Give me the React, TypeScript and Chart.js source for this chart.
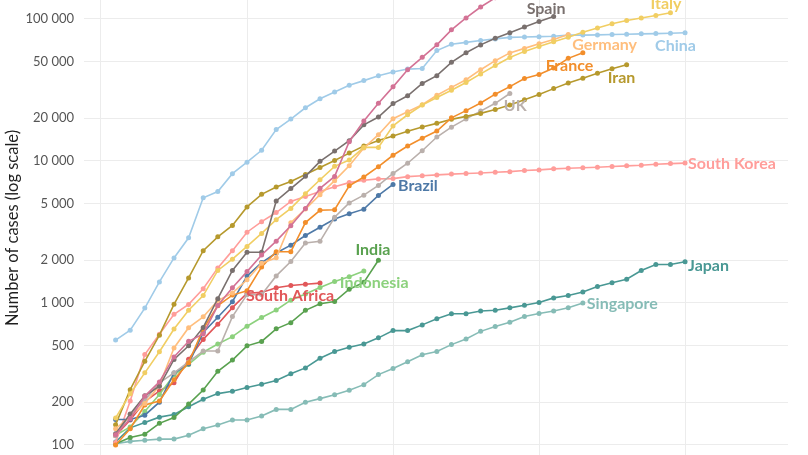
import React, { useEffect, useRef } from "react";
import { Chart, registerables } from "chart.js";

Chart.register(...registerables);

// Confirmed cases, by day since the 100th case (day 1 = first day with >= 100 cases)
const chinaCases = [548, 643, 920, 1406, 2075, 2877, 5509, 6087, 8141, 9802, 11891, 16630, 19716, 23707, 27440, 30587, 34110, 36814, 39829, 42354, 44386, 44759, 59895, 66358, 68413, 70513, 72434, 74211, 74619, 75077, 75550, 77001, 77022, 77241, 77754, 78166, 78600, 78928, 79356, 79932];
const southKoreaCases = [104, 204, 433, 602, 833, 977, 1261, 1766, 2337, 3150, 3736, 4335, 5186, 5621, 6088, 6593, 7041, 7314, 7478, 7513, 7755, 7869, 7979, 8086, 8162, 8236, 8320, 8413, 8565, 8652, 8799, 8897, 8961, 9037, 9137, 9241, 9332, 9478, 9583, 9661];
const japanCases = [105, 132, 144, 157, 164, 186, 210, 230, 239, 254, 268, 284, 317, 349, 408, 455, 488, 514, 568, 639, 639, 701, 773, 839, 839, 878, 889, 924, 963, 1007, 1086, 1128, 1193, 1307, 1387, 1468, 1693, 1866, 1866, 1953];
const italyCases = [155, 229, 322, 453, 655, 888, 1128, 1694, 2036, 2502, 3089, 3858, 4636, 5883, 7375, 9172, 10149, 12462, 12462, 17660, 21157, 24747, 27980, 31506, 35713, 41035, 47021, 53578, 59138, 63927, 69176, 74386, 80589, 86498, 92472, 97689, 101739, 105792, 110574];
const iranCases = [139, 245, 388, 593, 978, 1501, 2336, 2922, 3513, 4747, 5823, 6566, 7161, 8042, 9000, 10075, 11364, 12729, 13938, 14991, 16169, 17361, 18407, 19644, 20610, 21638, 23049, 24811, 27017, 29406, 32332, 35408, 38309, 41495, 44605, 47593];
const franceCases = [100, 130, 191, 204, 288, 380, 656, 957, 1136, 1219, 1794, 2293, 2293, 3681, 4496, 4532, 6683, 7715, 9124, 10970, 12758, 14463, 16243, 20123, 22622, 25600, 29551, 33402, 38105, 40708, 45170, 52827, 57749];
const singaporeCases = [102, 106, 108, 110, 110, 117, 130, 138, 150, 150, 160, 178, 178, 200, 212, 226, 243, 266, 313, 345, 385, 432, 455, 509, 558, 631, 683, 732, 802, 844, 879, 926, 1000];
const germanyCases = [130, 159, 196, 262, 482, 670, 799, 1040, 1176, 1457, 1908, 2078, 3675, 4585, 5795, 7272, 9257, 12327, 15320, 19848, 22213, 24873, 29056, 32986, 37323, 43938, 50871, 57695, 62095, 66885, 71808, 77872];
const spainCases = [120, 165, 222, 259, 400, 500, 673, 1073, 1695, 2277, 2277, 5232, 6391, 7798, 9942, 11748, 13910, 17963, 20410, 25374, 28768, 35136, 39885, 49515, 57786, 65719, 73235, 80110, 87956, 95923, 104118];
const usCases = [118, 153, 221, 278, 417, 537, 605, 959, 1281, 1663, 2179, 2726, 3499, 4632, 6421, 7786, 13680, 19101, 25493, 33276, 43847, 53740, 65778, 83836, 101657, 121478, 140886, 161807, 188172, 213372];
const ukCases = [116, 164, 207, 274, 322, 384, 459, 459, 802, 1144, 1145, 1551, 1960, 2642, 2716, 4014, 5067, 5745, 6726, 8164, 9640, 11812, 14745, 17312, 19780, 22453, 25481, 29865];
const brazilCases = [151, 151, 162, 200, 321, 372, 621, 793, 1021, 1546, 1924, 2247, 2554, 2985, 3417, 3904, 4256, 4579, 5717, 6836];
const indiaCases = [102, 113, 119, 142, 156, 194, 244, 330, 396, 499, 536, 657, 727, 887, 987, 1024, 1251, 1397, 1998];
const indonesiaCases = [117, 134, 172, 227, 311, 369, 450, 514, 579, 686, 790, 893, 1046, 1155, 1285, 1414, 1528, 1677];
const southAfricaCases = [116, 150, 202, 240, 274, 402, 554, 709, 927, 1170, 1187, 1280, 1326, 1353, 1380];

const countryNames = ["United States", "Spain", "Italy", "Germany", "China", "France", "Iran", "UK", "Brazil", "South Korea", "India", "Indonesia", "South Africa", "Japan", "Singapore"];
const countrySeries = [usCases, spainCases, italyCases, germanyCases, chinaCases, franceCases, iranCases, ukCases, brazilCases, southKoreaCases, indiaCases, indonesiaCases, southAfricaCases, japanCases, singaporeCases];

const yTickValues = [100, 200, 500, 1000, 2000, 5000, 10000, 20000, 50000, 100000];
const xTickValues = [0, 10, 20, 30, 40];
const yAxisTitle = "Number of cases (log scale)";

// styling
const COLORS: Record<string, string> = {
  "United States": "#D37295",
  Spain: "#79706E",
  Italy: "#F1CE63",
  Germany: "#FFBE7D",
  China: "#A0CBE8",
  France: "#F28E2B",
  Iran: "#B6992D",
  UK: "#BAB0AC",
  Brazil: "#4E79A7",
  "South Korea": "#FF9D9A",
  India: "#59A14F",
  Indonesia: "#8CD17D",
  "South Africa": "#E15759",
  Japan: "#499894",
  Singapore: "#86BCB6",
};

// label offset from the last point: [dx to text left, dy to text middle]
const LABEL_OFFSETS: Record<string, [number, number]> = {
  "United States": [5, 0],
  Spain: [-27, -8],
  Italy: [-20, -9],
  Germany: [4, 10],
  China: [-30, 13],
  France: [-37, 13],
  Iran: [-19, 13],
  UK: [-6, 12],
  Brazil: [5, 1],
  "South Korea": [3, 1],
  India: [-23, -10],
  Indonesia: [-24, 12],
  "South Africa": [-74, 13],
  Japan: [3, 4],
  Singapore: [4, 1],
};

const CANVAS_TOP = -38;
const TITLE_CENTER_Y = 228; // in page coordinates

const fmt = (v: number) => String(v).replace(/\B(?=(\d{3})+(?!\d))/g, " ");

const endLabels = {
  id: "endLabels",
  afterDatasetsDraw(chart: any) {
    const ctx = chart.ctx;
    ctx.save();
    ctx.font = "bold 16px Lato";
    ctx.textBaseline = "middle";
    ctx.textAlign = "left";
    chart.data.datasets.forEach((ds: any, i: number) => {
      const meta = chart.getDatasetMeta(i);
      const pt = meta.data[meta.data.length - 1];
      if (!pt) return;
      const off = LABEL_OFFSETS[ds.label] || [5, 0];
      ctx.fillStyle = ds.borderColor;
      ctx.fillText(ds.label, pt.x + off[0], pt.y + off[1]);
    });
    ctx.restore();
  },
};

const axisTitle = {
  id: "axisTitle",
  afterDraw(chart: any) {
    const ctx = chart.ctx;
    ctx.save();
    ctx.translate(13, TITLE_CENTER_Y - CANVAS_TOP);
    ctx.rotate(-Math.PI / 2);
    ctx.font = "16.5px Lato";
    ctx.fillStyle = "#1f1f1f";
    ctx.textAlign = "center";
    ctx.textBaseline = "middle";
    ctx.fillText(yAxisTitle, 0, 0);
    ctx.restore();
  },
};

export default function App() {
  const ref = useRef<HTMLCanvasElement | null>(null);

  useEffect(() => {
    if (!ref.current) return;
    const datasets = countryNames.map((name, k) => ({
      label: name,
      data: countrySeries[k].map((v, i) => ({ x: i + 1, y: v })),
      borderColor: COLORS[name],
      backgroundColor: COLORS[name],
      borderWidth: 1.6,
      pointRadius: 2.5,
      pointBorderWidth: 0,
      pointHoverRadius: 2.5,
      tension: 0,
    }));
    const chart = new Chart(ref.current, {
      type: "line",
      data: { datasets },
      plugins: [endLabels, axisTitle],
      options: {
        responsive: false,
        animation: false,
        events: [],
        layout: { padding: { top: 26, right: 20, bottom: 0, left: 0 } },
        plugins: { legend: { display: false }, tooltip: { enabled: false } },
        scales: {
          x: {
            type: "linear",
            min: -1.164,
            max: 47.05,
            afterBuildTicks: (s: any) => {
              s.ticks = xTickValues.map((v) => ({ value: v }));
            },
            afterFit: (s: any) => {
              s.height = 20;
            },
            border: { display: false },
            grid: { color: "#ececec", lineWidth: 1, drawTicks: false },
            ticks: { display: false },
          },
          y: {
            type: "logarithmic",
            min: 64.5,
            max: 165300,
            afterBuildTicks: (s: any) => {
              s.ticks = yTickValues.map((v) => ({ value: v }));
            },
            afterFit: (s: any) => {
              s.width = 84;
            },
            border: { display: false },
            grid: { color: "#ececec", lineWidth: 1, drawTicks: false },
            ticks: {
              padding: 10,
              color: "#555555",
              font: { family: "Lato", size: 13 },
              callback: (v: any) => fmt(Number(v)),
              autoSkip: false,
            },
            title: { display: false },
          },
        },
      },
    });
    return () => chart.destroy();
  }, []);

  return (
    <canvas
      ref={ref}
      width={808}
      height={530}
      style={{ position: "fixed", left: 0, top: CANVAS_TOP, width: 808, height: 530 }}
    />
  );
}
